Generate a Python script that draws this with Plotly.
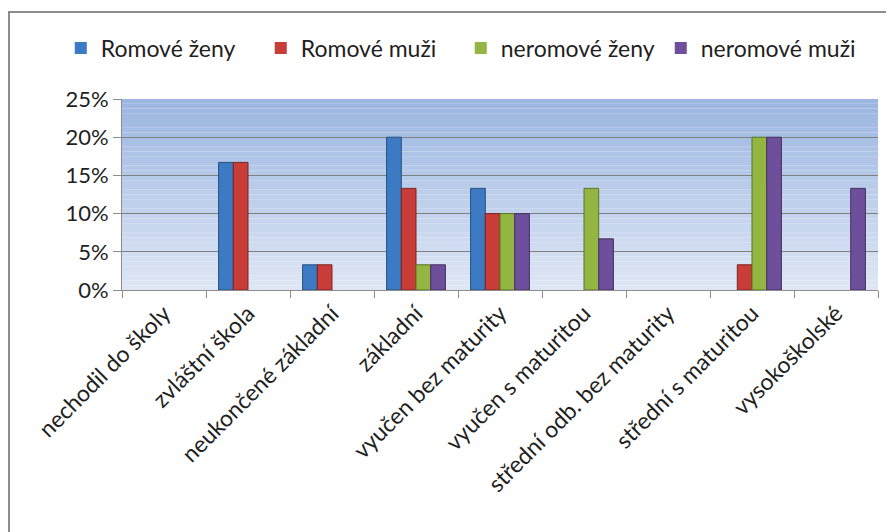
import plotly.graph_objects as go

# education level categories (Czech survey)
categories = [
    "nechodil do školy",
    "zvláštní škola",
    "neukončené základní",
    "základní",
    "vyučen bez maturity",
    "vyučen s maturitou",
    "střední odb. bez maturity",
    "střední s maturitou",
    "vysokoškolské",
]

romove_zeny = [0, 0.167, 0.033, 0.20, 0.133, 0, 0, 0, 0]
romove_muzi = [0, 0.167, 0.033, 0.133, 0.10, 0, 0, 0.033, 0]
neromove_zeny = [0, 0, 0, 0.033, 0.10, 0.133, 0, 0.20, 0]
neromove_muzi = [0, 0, 0, 0.033, 0.10, 0.067, 0, 0.20, 0.133]

series = [
    ("Romové ženy", romove_zeny, "#3C7BC3", "#25517F"),
    ("Romové muži", romove_muzi, "#C83D38", "#7E2421"),
    ("neromové ženy", neromove_zeny, "#92B641", "#5C7526"),
    ("neromové muži", neromove_muzi, "#6E4F9C", "#45305F"),
]

# the page body adds an 8px offset, so the figure is a bit smaller than the window
W, H = 886, 524
ML, MR, MT, MB = 114, 16, 91, 242
pw = W - ML - MR
ph = H - MT - MB

fig = go.Figure()
for name, vals, col, edge in series:
    fig.add_trace(go.Bar(
        x=categories, y=vals, name=name,
        marker=dict(
            color=col,
            line=dict(color=edge, width=[1 if v > 0 else 0 for v in vals]),
        ),
    ))

# vertical gradient for the plot area, drawn as thin bands
n_bands = 40
top = (155, 182, 225)
bot = (222, 230, 244)
for i in range(n_bands):
    t = i / (n_bands - 1)
    c = tuple(round(bot[k] + (top[k] - bot[k]) * t) for k in range(3))
    fig.add_shape(
        type="rect", xref="x domain", yref="y domain",
        x0=0, x1=1, y0=i / n_bands, y1=(i + 1) / n_bands,
        fillcolor="rgb(%d,%d,%d)" % c, line=dict(width=0), layer="below",
    )

# outer chart frame (runs off the right and bottom edges)
fig.add_shape(
    type="rect", xref="paper", yref="paper",
    x0=(1 - ML) / pw, x1=(W + 10 - ML) / pw,
    y0=(H - MB - (H + 10)) / ph, y1=(H - MB - 4) / ph,
    line=dict(color="#8C8C8C", width=2), fillcolor="rgba(0,0,0,0)",
)

fig.update_layout(
    width=W, height=H,
    margin=dict(l=ML, r=MR, t=MT, b=MB),
    paper_bgcolor="white",
    plot_bgcolor="rgba(0,0,0,0)",
    barmode="group",
    bargap=0.3,
    bargroupgap=0,
    font=dict(family="Lato, Open Sans, sans-serif", color="#1F1F1F"),
    showlegend=True,
    legend=dict(
        orientation="h", x=-0.081, xanchor="left",
        y=(H - MB - 40) / ph, yanchor="middle",
        font=dict(size=23), itemwidth=30,
        entrywidth=155, entrywidthmode="pixels",
        bgcolor="rgba(0,0,0,0)",
    ),
    xaxis=dict(
        tickangle=-45, tickfont=dict(size=23),
        showline=True, linecolor="#8C8C8C", linewidth=1,
        ticks="outside", ticklen=7, tickcolor="#8C8C8C", tickson="boundaries",
        showgrid=False,
    ),
    yaxis=dict(
        range=[0, 0.25], dtick=0.05, tickformat=".0%",
        tickfont=dict(size=22),
        showline=True, linecolor="#8C8C8C", linewidth=1,
        ticks="outside", ticklen=8, tickcolor="#8C8C8C",
        showgrid=True, gridcolor="#7F7F7F", gridwidth=1,
        zeroline=False,
    ),
)

fig.write_html("out.html")
